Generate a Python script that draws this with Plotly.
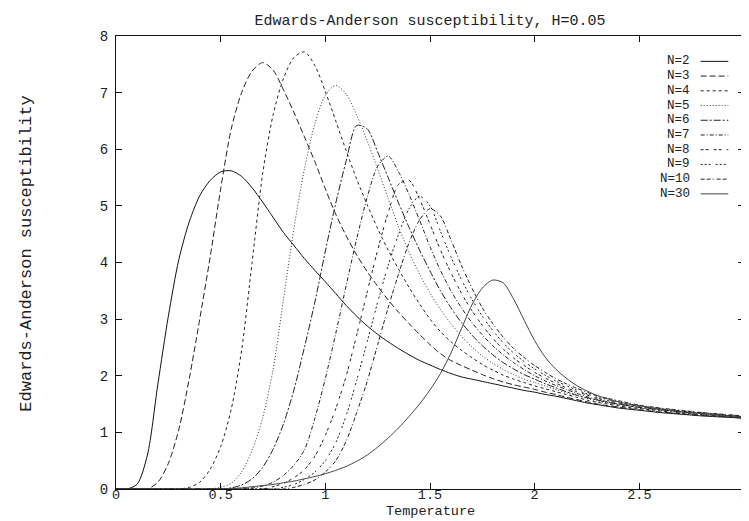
import plotly.graph_objects as go

# Temperature grid
T = [0.0, 0.05, 0.1, 0.15, 0.2, 0.25, 0.3, 0.35, 0.4, 0.45,
     0.5, 0.55, 0.6, 0.65, 0.7, 0.75, 0.8, 0.85, 0.9, 0.95,
     1.0, 1.05, 1.1, 1.15, 1.2, 1.25, 1.3, 1.35, 1.4, 1.45,
     1.5, 1.55, 1.6, 1.65, 1.7, 1.75, 1.8, 1.85, 1.9, 1.95,
     2.0, 2.05, 2.1, 2.15, 2.2, 2.25, 2.3, 2.35, 2.4, 2.45,
     2.5, 2.55, 2.6, 2.65, 2.7, 2.75, 2.8, 2.85, 2.9, 2.95, 3.0]

chi_N2 = [0, 0, 0.08, 0.6, 1.85, 3.05, 4.05, 4.72, 5.18, 5.45,
          5.6, 5.62, 5.52, 5.32, 5.07, 4.8, 4.53, 4.3, 4.07, 3.86,
          3.66, 3.45, 3.24, 3.05, 2.88, 2.73, 2.6, 2.48, 2.37, 2.27,
          2.19, 2.11, 2.04, 1.98, 1.94, 1.9, 1.86, 1.82, 1.78, 1.74,
          1.71, 1.67, 1.64, 1.6, 1.56, 1.52, 1.49, 1.46, 1.43, 1.41,
          1.39, 1.37, 1.35, 1.335, 1.32, 1.305, 1.29, 1.28, 1.27, 1.26, 1.25]

chi_N3 = [0, 0, 0, 0, 0.12, 0.45, 1.05, 1.95, 3.0, 4.1,
          5.3, 6.35, 7.0, 7.38, 7.53, 7.4, 7.05, 6.65, 6.22, 5.78,
          5.3, 4.85, 4.47, 4.13, 3.84, 3.58, 3.34, 3.12, 2.92, 2.73,
          2.55, 2.39, 2.27, 2.18, 2.1, 2.02, 1.95, 1.89, 1.84, 1.8,
          1.76, 1.71, 1.67, 1.62, 1.58, 1.54, 1.5, 1.47, 1.45, 1.42,
          1.4, 1.38, 1.36, 1.345, 1.33, 1.315, 1.3, 1.29, 1.28, 1.265, 1.25]

chi_N4 = [0, 0, 0, 0, 0, 0, 0, 0.03, 0.12, 0.35,
          0.75, 1.4, 2.45, 4.0, 5.55, 6.6, 7.25, 7.62, 7.72, 7.48,
          7.02, 6.5, 5.97, 5.47, 5.02, 4.6, 4.22, 3.88, 3.56, 3.27,
          3.0, 2.78, 2.6, 2.45, 2.32, 2.2, 2.1, 2.01, 1.94, 1.88,
          1.82, 1.77, 1.72, 1.67, 1.62, 1.57, 1.53, 1.5, 1.47, 1.44,
          1.42, 1.4, 1.38, 1.36, 1.34, 1.325, 1.31, 1.295, 1.28, 1.27, 1.26]

chi_N5 = [0, 0, 0, 0, 0, 0, 0, 0, 0, 0,
          0.03, 0.1, 0.3, 0.68, 1.25, 2.1, 3.35, 4.6, 5.65, 6.45,
          6.95, 7.13, 6.97, 6.6, 6.15, 5.65, 5.13, 4.63, 4.18, 3.8,
          3.46, 3.17, 2.92, 2.7, 2.51, 2.35, 2.22, 2.11, 2.02, 1.94,
          1.88, 1.82, 1.76, 1.7, 1.65, 1.6, 1.55, 1.52, 1.49, 1.46,
          1.43, 1.41, 1.39, 1.37, 1.35, 1.335, 1.32, 1.305, 1.29, 1.275, 1.26]

chi_N6 = [0, 0, 0, 0, 0, 0, 0, 0, 0, 0,
          0, 0.02, 0.07, 0.18, 0.38, 0.7, 1.15, 1.75, 2.5, 3.3,
          4.2, 5.05, 5.8, 6.42, 6.36, 5.95, 5.5, 5.05, 4.62, 4.22,
          3.85, 3.5, 3.2, 2.94, 2.72, 2.53, 2.37, 2.23, 2.12, 2.02,
          1.94, 1.86, 1.79, 1.72, 1.66, 1.61, 1.57, 1.53, 1.5, 1.47,
          1.44, 1.42, 1.4, 1.38, 1.36, 1.345, 1.33, 1.31, 1.3, 1.285, 1.27]

chi_N7 = [0, 0, 0, 0, 0, 0, 0, 0, 0, 0,
          0, 0, 0, 0.02, 0.05, 0.12, 0.24, 0.42, 0.69, 1.25,
          1.95, 2.75, 3.6, 4.42, 5.15, 5.7, 5.88, 5.6, 5.2, 4.75,
          4.28, 3.86, 3.5, 3.2, 2.94, 2.72, 2.53, 2.37, 2.23, 2.11,
          2.0, 1.91, 1.83, 1.76, 1.69, 1.63, 1.58, 1.54, 1.5, 1.47,
          1.445, 1.425, 1.405, 1.385, 1.365, 1.35, 1.335, 1.32, 1.305, 1.29, 1.275]

chi_N8 = [0, 0, 0, 0, 0, 0, 0, 0, 0, 0,
          0, 0, 0, 0, 0, 0.04, 0.1, 0.2, 0.34, 0.58,
          0.95, 1.42, 2.0, 2.72, 3.48, 4.22, 4.88, 5.38, 5.45, 5.12,
          4.68, 4.22, 3.82, 3.46, 3.15, 2.89, 2.66, 2.47, 2.31, 2.18,
          2.06, 1.96, 1.87, 1.79, 1.72, 1.66, 1.6, 1.56, 1.52, 1.49,
          1.46, 1.435, 1.415, 1.395, 1.375, 1.355, 1.34, 1.325, 1.31, 1.295, 1.28]

chi_N9 = [0, 0, 0, 0, 0, 0, 0, 0, 0, 0,
          0, 0, 0, 0, 0, 0, 0.03, 0.08, 0.17, 0.3,
          0.5, 0.82, 1.3, 1.92, 2.6, 3.3, 3.95, 4.5, 4.95, 5.17,
          5.0, 4.55, 4.1, 3.7, 3.35, 3.05, 2.8, 2.58, 2.4, 2.25,
          2.12, 2.01, 1.91, 1.83, 1.75, 1.68, 1.62, 1.58, 1.54, 1.5,
          1.47, 1.445, 1.42, 1.4, 1.38, 1.36, 1.345, 1.33, 1.315, 1.3, 1.285]

chi_N10 = [0, 0, 0, 0, 0, 0, 0, 0, 0, 0,
           0, 0, 0, 0, 0, 0, 0, 0.03, 0.08, 0.16,
           0.3, 0.5, 0.85, 1.35, 1.9, 2.55, 3.2, 3.8, 4.35, 4.75,
           4.95, 4.82, 4.4, 3.95, 3.55, 3.2, 2.92, 2.68, 2.48, 2.32,
           2.18, 2.06, 1.95, 1.86, 1.78, 1.71, 1.64, 1.6, 1.56, 1.52,
           1.48, 1.455, 1.43, 1.41, 1.39, 1.37, 1.35, 1.335, 1.32, 1.305, 1.29]

chi_N30 = [0, 0, 0, 0, 0, 0, 0, 0, 0, 0,
           0.005, 0.01, 0.02, 0.04, 0.06, 0.08, 0.11, 0.14, 0.18, 0.22,
           0.27, 0.33, 0.4, 0.49, 0.6, 0.74, 0.9, 1.08, 1.28, 1.5,
           1.75, 2.04, 2.4, 2.83, 3.25, 3.55, 3.69, 3.64, 3.35, 2.98,
           2.62, 2.33, 2.12, 1.96, 1.83, 1.73, 1.65, 1.59, 1.54, 1.5,
           1.47, 1.44, 1.41, 1.39, 1.37, 1.35, 1.33, 1.315, 1.3, 1.285, 1.27]

series_names = ["N=2", "N=3", "N=4", "N=5", "N=6", "N=7", "N=8", "N=9", "N=10", "N=30"]
series_values = [chi_N2, chi_N3, chi_N4, chi_N5, chi_N6, chi_N7, chi_N8, chi_N9, chi_N10, chi_N30]
dashes = ["solid", "6px,3px", "3px,3px", "1px,2px", "7px,2px,2px,2px",
          "4px,2px,1px,2px", "3px,2px,3px,5px", "2px,2px,2px,2px,2px,5px",
          "4px,2px,4px,2px,1px,3px", "solid"]
colors = ["#111", "#222", "#222", "#333", "#222", "#222", "#222", "#222", "#222", "#444"]

x_ticks = [0, 0.5, 1, 1.5, 2, 2.5, 3]
x_tick_labels = ["0", "0.5", "1", "1.5", "2", "2.5", "3"]
y_ticks = [0, 1, 2, 3, 4, 5, 6, 7, 8]

FONT = "Liberation Mono, Courier New, monospace"

fig = go.Figure()
for name, vals, dsh, col in zip(series_names, series_values, dashes, colors):
    fig.add_trace(go.Scatter(
        x=T, y=vals, mode="lines", name=name,
        line=dict(color=col, width=1, dash=dsh, shape="spline", smoothing=0.8),
        showlegend=False, hoverinfo="x+y+name"))

# Legend drawn gnuplot style: label right-aligned, sample line on its right
leg_y0 = 0.944
leg_dy = 0.0325
for i, (name, dsh, col) in enumerate(zip(series_names, dashes, colors)):
    yy = leg_y0 - i * leg_dy
    fig.add_annotation(x=0.917, y=yy, xref="paper", yref="paper", text=name,
                       showarrow=False, xanchor="right", yanchor="middle",
                       font=dict(family=FONT, size=12.5, color="#222"))
    fig.add_shape(type="line", xref="paper", yref="paper",
                  x0=0.931, x1=0.975, y0=yy, y1=yy,
                  line=dict(color=col, width=1, dash=dsh))

fig.add_annotation(x=0.5, y=-22 / 453, xref="paper", yref="paper", text="Temperature",
                   showarrow=False, xanchor="center", yanchor="middle", borderpad=0,
                   font=dict(family=FONT, size=13.5, color="#222"))
fig.add_annotation(x=-0.143, y=0.52, xref="paper", yref="paper",
                   text="Edwards-Anderson susceptibility", textangle=-90,
                   showarrow=False, xanchor="center", yanchor="middle",
                   font=dict(family=FONT, size=17, color="#222"))

fig.update_layout(
    width=749, height=521,
    margin=dict(l=108, r=9, t=28, b=40),
    paper_bgcolor="white", plot_bgcolor="white",
    title=dict(text="Edwards-Anderson susceptibility, H=0.05",
               x=0.5, xref="paper", xanchor="center",
               y=1 - 12 / 521, yref="container", yanchor="middle",
               font=dict(family=FONT, size=15, color="#222")),
    font=dict(family=FONT, size=14, color="#222"),
)
fig.update_xaxes(range=[0, 3], tickvals=x_ticks, ticktext=x_tick_labels,
                 ticks="inside", ticklen=6, tickcolor="#111",
                 showline=True, linecolor="#111", linewidth=1, mirror="ticks",
                 showgrid=False, zeroline=False, ticklabelstandoff=-7,
                 ticklabeloverflow="allow",
                 tickfont=dict(family=FONT, size=13.5, color="#222"))
fig.update_yaxes(range=[0, 8], tickvals=y_ticks,
                 ticks="inside", ticklen=6, tickcolor="#111",
                 showline=True, linecolor="#111", linewidth=1, mirror="ticks",
                 showgrid=False, zeroline=False, ticklabelstandoff=4,
                 tickfont=dict(family=FONT, size=14, color="#222"))

fig.write_html("out.html")
